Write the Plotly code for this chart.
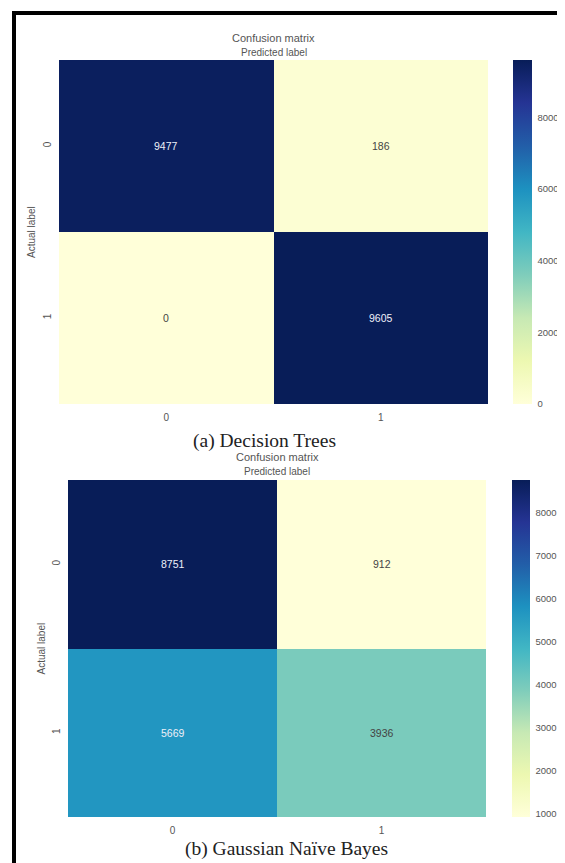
import plotly.graph_objects as go

# ---------------- data ----------------
class_labels = ["0", "1"]
cm_decision_trees = [[9477, 186], [0, 9605]]
cm_gaussian_nb = [[8751, 912], [5669, 3936]]
captions = ["(a) Decision Trees", "(b) Gaussian Naïve Bayes"]
cb_ticks_dt = [0, 2000, 4000, 6000, 8000]
cb_ticks_gnb = [1000, 2000, 3000, 4000, 5000, 6000, 7000, 8000]

# ---------------- style ----------------
W, H = 565, 863
OFF = 8  # page body margin
FW, FH = W - OFF, H - OFF
YLGNBU = [
    [0.000, "#ffffd9"], [0.125, "#edf8b1"], [0.250, "#c7e9b4"],
    [0.375, "#7fcdbb"], [0.500, "#41b6c4"], [0.625, "#1d91c0"],
    [0.750, "#225ea8"], [0.875, "#253494"], [1.000, "#081d58"],
]
SANS = "Liberation Sans, Arial, sans-serif"
SERIF = "Liberation Serif, Times New Roman, serif"
TXT = "#555555"


def px_x(p):
    return (p - OFF) / FW


def px_y(p):
    return 1 - (p - OFF) / FH


# panel geometry in page pixels
panels = [
    dict(cm=cm_decision_trees, l=59, r=488, t=60, b=404, cbl=513, cbw=19,
         ticks=cb_ticks_dt, title_y=(38, 53), label_x=31, cap=(264, 441)),
    dict(cm=cm_gaussian_nb, l=68, r=486, t=480, b=817, cbl=512, cbw=18,
         ticks=cb_ticks_gnb, title_y=(457, 472), label_x=41, cap=(286, 849)),
]

fig = go.Figure()
annotations = []

for i, p in enumerate(panels):
    sfx = "" if i == 0 else str(i + 1)
    xa, ya = "x" + sfx, "y" + sfx
    z = p["cm"]
    zmin = min(min(r) for r in z)
    zmax = max(max(r) for r in z)
    fig.add_trace(go.Heatmap(
        z=z, x=class_labels, y=class_labels, xaxis=xa, yaxis=ya,
        colorscale=YLGNBU, zmin=zmin, zmax=zmax, xgap=0, ygap=0,
        hoverinfo="skip",
        colorbar=dict(
            x=px_x(p["cbl"]), xanchor="left", xpad=0,
            y=px_y(p["t"]), yanchor="top", ypad=0,
            len=p["b"] - p["t"], lenmode="pixels",
            thickness=p["cbw"], thicknessmode="pixels",
            outlinewidth=0, tickvals=p["ticks"],
            ticks="outside", ticklen=4, tickcolor="rgba(0,0,0,0)",
            tickfont=dict(family=SANS, size=9.5, color=TXT),
        ),
    ))
    # cell values
    for r, row_lab in enumerate(class_labels):
        for c, col_lab in enumerate(class_labels):
            v = z[r][c]
            frac = (v - zmin) / (zmax - zmin) if zmax > zmin else 0
            col = "#eef0f8" if frac > 0.5 else "#444444"
            annotations.append(dict(
                x=col_lab, y=row_lab, xref=xa, yref=ya, text=str(v),
                showarrow=False, font=dict(family=SANS, size=10.5, color=col),
            ))
    xc = px_x((p["l"] + p["r"]) / 2)
    annotations.append(dict(
        x=xc, y=px_y(p["title_y"][0]), xref="paper", yref="paper",
        text="Confusion matrix", showarrow=False, xanchor="center", yanchor="middle",
        font=dict(family=SANS, size=11, color=TXT)))
    annotations.append(dict(
        x=xc, y=px_y(p["title_y"][1]), xref="paper", yref="paper",
        text="Predicted label", showarrow=False, xanchor="center", yanchor="middle",
        font=dict(family=SANS, size=10, color=TXT)))
    annotations.append(dict(
        x=px_x(p["label_x"]), y=px_y((p["t"] + p["b"]) / 2), xref="paper", yref="paper",
        text="Actual label", showarrow=False, textangle=-90,
        xanchor="center", yanchor="middle",
        font=dict(family=SANS, size=10, color=TXT)))
    annotations.append(dict(
        x=px_x(p["cap"][0]), y=px_y(p["cap"][1]), xref="paper", yref="paper",
        text=captions[i], showarrow=False, xanchor="center", yanchor="middle",
        font=dict(family=SERIF, size=19.5, color="#222222")))

    axis_common = dict(showgrid=False, zeroline=False, showline=False,
                       ticks="outside", tickcolor="rgba(0,0,0,0)",
                       tickfont=dict(family=SANS, size=10, color=TXT),
                       type="category")
    fig.update_layout(**{
        "xaxis" + sfx: dict(axis_common, domain=[px_x(p["l"]), px_x(p["r"])],
                            anchor=ya, ticklen=4),
        "yaxis" + sfx: dict(axis_common, domain=[px_y(p["b"]), px_y(p["t"])],
                            anchor=xa, autorange="reversed", tickangle=-90,
                            ticklen=3),
    })

# black frame (top and left edges visible)
shapes = [
    dict(type="line", xref="paper", yref="paper", x0=px_x(14), x1=px_x(W + 10),
         y0=px_y(13), y1=px_y(13), line=dict(color="black", width=4)),
    dict(type="line", xref="paper", yref="paper", x0=px_x(14), x1=px_x(14),
         y0=px_y(11), y1=px_y(H + 10), line=dict(color="black", width=4)),
]

fig.update_layout(
    width=FW, height=FH, margin=dict(l=0, r=0, t=0, b=0),
    paper_bgcolor="white", plot_bgcolor="white",
    annotations=annotations, shapes=shapes, showlegend=False,
)

fig.write_html("out.html")
